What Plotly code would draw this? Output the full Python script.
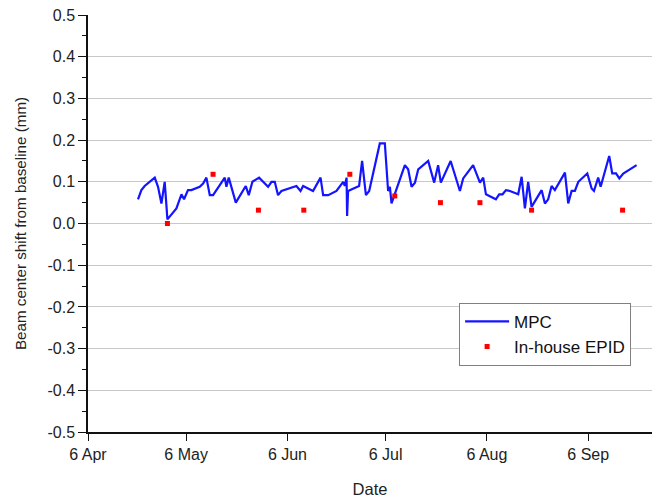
import plotly.graph_objects as go

mpc_dates = [
    "2015-04-21 07:00", "2015-04-22 08:00", "2015-04-23 08:00", "2015-04-26 10:00",
    "2015-04-27 10:00", "2015-04-28 11:00", "2015-04-29 11:00", "2015-04-30 04:00",
    "2015-04-30 07:00", "2015-05-03 01:00", "2015-05-04 14:00", "2015-05-05 09:00",
    "2015-05-06 14:00", "2015-05-07 15:00", "2015-05-10 04:00", "2015-05-11 05:00",
    "2015-05-12 05:00", "2015-05-13 06:00", "2015-05-14 06:00", "2015-05-17 20:00",
    "2015-05-18 08:00", "2015-05-19 01:00", "2015-05-21 05:00", "2015-05-24 06:00",
    "2015-05-25 04:00", "2015-05-26 07:00", "2015-05-28 08:00", "2015-05-31 02:00",
    "2015-06-01 03:00", "2015-06-02 03:00", "2015-06-03 03:00", "2015-06-04 04:00",
    "2015-06-08 18:00", "2015-06-10 00:00", "2015-06-10 19:00", "2015-06-13 20:00",
    "2015-06-16 03:00", "2015-06-16 22:00", "2015-06-18 11:00", "2015-06-21 00:00",
    "2015-06-23 01:00", "2015-06-23 13:00", "2015-06-24 02:00", "2015-06-24 06:00",
    "2015-06-24 13:00", "2015-06-27 22:00", "2015-06-28 20:00", "2015-06-30 00:00",
    "2015-07-01 00:00", "2015-07-04 06:00", "2015-07-05 19:00", "2015-07-06 19:00",
    "2015-07-07 08:00", "2015-07-07 20:00", "2015-07-08 08:00", "2015-07-11 22:00",
    "2015-07-12 22:00", "2015-07-13 23:00", "2015-07-15 00:00", "2015-07-16 00:00",
    "2015-07-19 01:00", "2015-07-20 21:00", "2015-07-22 02:00", "2015-07-22 22:00",
    "2015-07-25 22:00", "2015-07-28 18:00", "2015-07-29 18:00", "2015-08-01 19:00",
    "2015-08-03 21:00", "2015-08-04 21:00", "2015-08-05 17:00", "2015-08-08 18:00",
    "2015-08-09 18:00", "2015-08-10 19:00", "2015-08-11 20:00", "2015-08-13 01:00",
    "2015-08-15 14:00", "2015-08-16 15:00", "2015-08-17 15:00", "2015-08-18 15:00",
    "2015-08-19 16:00", "2015-08-22 18:00", "2015-08-23 18:00", "2015-08-24 18:00",
    "2015-08-25 19:00", "2015-08-26 19:00", "2015-08-29 21:00", "2015-08-30 21:00",
    "2015-08-31 22:00", "2015-09-01 22:00", "2015-09-02 23:00", "2015-09-05 17:00",
    "2015-09-07 01:00", "2015-09-07 18:00", "2015-09-09 01:00", "2015-09-09 19:00",
    "2015-09-12 10:00", "2015-09-13 08:00", "2015-09-14 12:00", "2015-09-15 12:00",
    "2015-09-16 17:00", "2015-09-20 19:00",
]
mpc_values = [
    0.058, 0.080, 0.090, 0.110,
    0.088, 0.048, 0.100, 0.030,
    0.010, 0.036, 0.070, 0.058,
    0.080, 0.080, 0.088, 0.096,
    0.110, 0.068, 0.068, 0.110,
    0.088, 0.110, 0.050, 0.090,
    0.068, 0.100, 0.110, 0.088,
    0.100, 0.100, 0.068, 0.078,
    0.090, 0.078, 0.090, 0.078,
    0.110, 0.068, 0.068, 0.078,
    0.100, 0.090, 0.110, 0.018,
    0.078, 0.090, 0.150, 0.068,
    0.078, 0.192, 0.192, 0.078,
    0.088, 0.048, 0.060, 0.140,
    0.130, 0.088, 0.098, 0.130,
    0.150, 0.098, 0.140, 0.098,
    0.150, 0.078, 0.108, 0.140,
    0.098, 0.110, 0.070, 0.058,
    0.070, 0.070, 0.080, 0.078,
    0.070, 0.112, 0.036, 0.100,
    0.040, 0.080, 0.048, 0.058,
    0.090, 0.080, 0.122, 0.048,
    0.078, 0.078, 0.100, 0.120,
    0.084, 0.078, 0.110, 0.088,
    0.162, 0.120, 0.120, 0.108,
    0.120, 0.140,
]

epid_dates = [
    "2015-04-30 07:00", "2015-05-14 06:00", "2015-05-28 03:00", "2015-06-11 00:00",
    "2015-06-25 02:00", "2015-07-08 20:00", "2015-07-22 19:00", "2015-08-03 21:00",
    "2015-08-19 16:00", "2015-09-16 12:00",
]
epid_values = [0.000, 0.118, 0.032, 0.032, 0.118, 0.066, 0.050, 0.050, 0.032, 0.032]

x_tick_vals = ["2015-04-06", "2015-05-06", "2015-06-06", "2015-07-06", "2015-08-06", "2015-09-06"]
x_tick_text = ["6 Apr", "6 May", "6 Jun", "6 Jul", "6 Aug", "6 Sep"]
x_range = ["2015-04-06", "2015-09-25 12:00"]

y_tick_vals = [-0.5, -0.4, -0.3, -0.2, -0.1, 0.0, 0.1, 0.2, 0.3, 0.4, 0.5]
y_tick_text = ["-0.5", "-0.4", "-0.3", "-0.2", "-0.1", "0.0", "0.1", "0.2", "0.3", "0.4", "0.5"]
y_range = [-0.5, 0.5]

fig = go.Figure()
fig.add_trace(go.Scatter(
    x=mpc_dates, y=mpc_values, mode="lines", name="MPC",
    line=dict(color="#1414ff", width=2.2),
))
fig.add_trace(go.Scatter(
    x=epid_dates, y=epid_values, mode="markers", name="In-house EPID",
    marker=dict(color="#ff0000", symbol="square", size=5, line=dict(width=0)),
))

font_family = "Liberation Sans, Arial, sans-serif"
fig.update_layout(
    width=653, height=498,
    margin=dict(l=88, r=1, t=15, b=66),
    paper_bgcolor="white", plot_bgcolor="white",
    font=dict(family=font_family, size=16, color="#222222"),
    showlegend=True,
    legend=dict(
        x=0.658, y=0.31, xanchor="left", yanchor="top",
        bgcolor="white", bordercolor="#808080", borderwidth=1,
        font=dict(size=17, color="#111111"),
        tracegroupgap=0, itemwidth=44,
    ),
)
fig.update_xaxes(
    type="date", range=x_range, automargin=False,
    tickvals=x_tick_vals, ticktext=x_tick_text,
    ticks="outside", ticklen=7, tickwidth=1.2, tickcolor="#111111",
    tickfont=dict(size=16),
    showline=True, linecolor="#111111", linewidth=1.5,
    showgrid=False, zeroline=False,
    title=dict(text="Date", font=dict(size=16.5), standoff=27),
)
fig.update_yaxes(
    range=y_range, automargin=False,
    tickvals=y_tick_vals, ticktext=y_tick_text,
    ticks="outside", ticklen=8, tickwidth=1.2, tickcolor="#111111",
    tickfont=dict(size=16),
    minor=dict(dtick=0.05, tick0=0, ticks="outside", ticklen=4, tickcolor="#111111", showgrid=False),
    showline=True, linecolor="#111111", linewidth=1.5,
    showgrid=True, gridcolor="#c8c8c8", gridwidth=1,
    zeroline=False,
    title=dict(text="Beam center shift from baseline (mm)", font=dict(size=15.2), standoff=17),
)

fig.write_html(
    "out.html",
    config={"displayModeBar": False},
    post_script="document.body.style.margin='0';document.body.style.overflow='hidden';",
)
